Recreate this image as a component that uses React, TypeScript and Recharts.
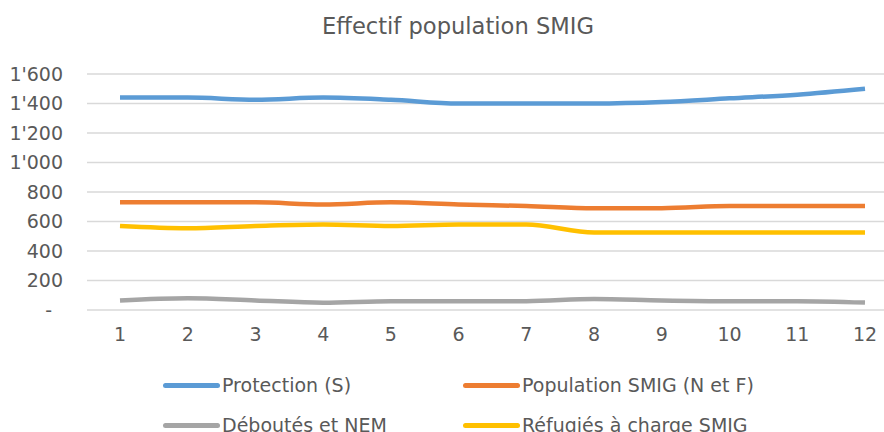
import React from 'react'
import { CartesianGrid, Line, LineChart, XAxis, YAxis } from 'recharts'

const months = ['1', '2', '3', '4', '5', '6', '7', '8', '9', '10', '11', '12']
const protection = [1440, 1440, 1425, 1440, 1425, 1400, 1400, 1400, 1410, 1435, 1460, 1500]
const populationSmig = [730, 730, 730, 715, 730, 715, 705, 690, 690, 705, 705, 705]
const deboutes = [65, 80, 65, 50, 60, 60, 60, 75, 65, 60, 60, 50]
const refugies = [570, 555, 570, 580, 570, 580, 580, 525, 525, 525, 525, 525]
const yTicks = [0, 200, 400, 600, 800, 1000, 1200, 1400, 1600]

const series = [
	{ key: 'protection', name: 'Protection (S)', color: '#5b9bd5' },
	{ key: 'population', name: 'Population SMIG (N et F)', color: '#ed7d31' },
	{ key: 'deboutes', name: 'Déboutés et NEM', color: '#a5a5a5' },
	{ key: 'refugies', name: 'Réfugiés à charge SMIG', color: '#ffc000' },
]

const data = months.map((m, i) => ({
	month: m,
	protection: protection[i],
	population: populationSmig[i],
	deboutes: deboutes[i],
	refugies: refugies[i],
}))

const fmt = (v: number) => (v === 0 ? '-' : v >= 1000 ? `${Math.floor(v / 1000)}'${String(v % 1000).padStart(3, '0')}` : String(v))

const font = '"DejaVu Sans", sans-serif'
const grey = '#595959'

// excel puts the zero dash a bit to the left of the numbers
const YTick = (props: any) => {
	const { x, y, payload } = props
	const v = payload.value
	return (
		<text x={v === 0 ? x - 11 : x} y={y} dy='0.35em' textAnchor='end' fill={grey} fontSize={19} fontFamily={font}>
			{fmt(v)}
		</text>
	)
}

const App = () => {
	return (
		<div style={{ position: 'absolute', left: 0, top: 0, width: 884, height: 432, background: '#fff', fontFamily: font }}>
			<div style={{ position: 'absolute', top: 13, left: 0, width: 916, textAlign: 'center', fontSize: 22.6, color: grey, whiteSpace: 'nowrap' }}>
				Effectif population SMIG
			</div>
			<LineChart width={884} height={432} data={data} margin={{ top: 74, left: 0, right: 0, bottom: 92 }}>
				<CartesianGrid vertical={false} stroke='#d9d9d9' strokeWidth={1.5} />
				<XAxis
					dataKey='month'
					axisLine={false}
					tickLine={false}
					padding={{ left: 33, right: 19 }}
					tick={{ fill: grey, fontSize: 19, fontFamily: font }}
					tickMargin={12}
					height={30}
				/>
				<YAxis
					width={87}
					domain={[0, 1600]}
					ticks={yTicks}
					axisLine={false}
					tickLine={false}
					tick={<YTick />}
					tickMargin={18}
				/>
				{series.map(s => (
					<Line
						key={s.key}
						type='monotone'
						dataKey={s.key}
						name={s.name}
						stroke={s.color}
						strokeWidth={4.5}
						dot={false}
						isAnimationActive={false}
					/>
				))}
			</LineChart>
			{series.map((s, i) => (
				<div
					key={s.key}
					style={{
						position: 'absolute',
						left: i % 2 === 0 ? 163 : 463,
						top: i < 2 ? 374 : 414,
						display: 'flex',
						alignItems: 'center',
						fontSize: 19,
						lineHeight: '22px',
						color: grey,
						whiteSpace: 'nowrap',
					}}
				>
					<span style={{ display: 'inline-block', width: 57, height: 5, borderRadius: 3, background: s.color, marginRight: 2 }} />
					{s.name}
				</div>
			))}
		</div>
	)
}

export default App
